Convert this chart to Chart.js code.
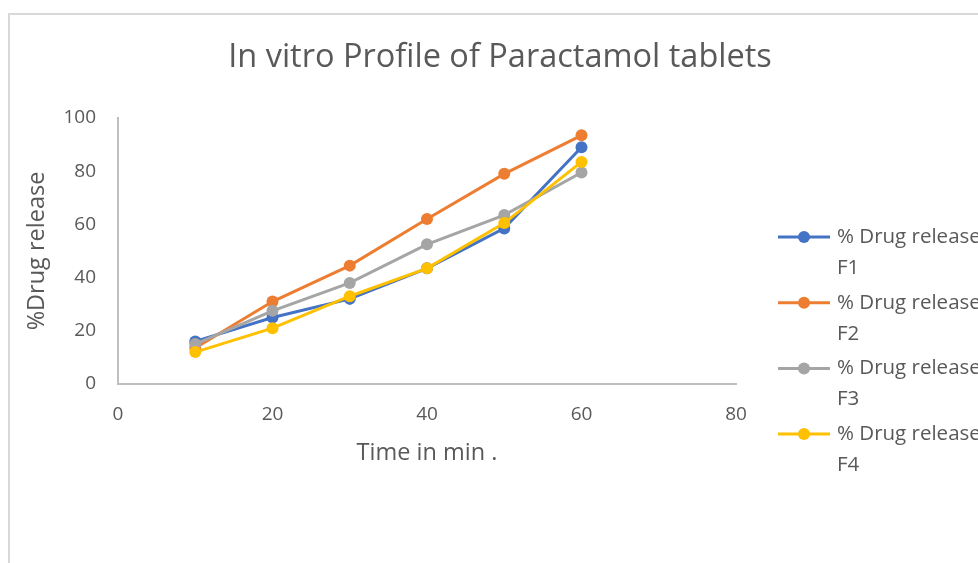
<!DOCTYPE html>
<html>
<head>
<meta charset="utf-8">
<script src="https://cdn.jsdelivr.net/npm/chart.js@4.4.1/dist/chart.umd.min.js"></script>
<style>
  html, body { margin: 0; padding: 0; background: #fff; overflow: hidden; }
  #frame { position: absolute; left: 8px; top: 13px; width: 1200px; height: 800px; border: 2px solid #d9d9d9; box-sizing: border-box; }
  #wrap { position: absolute; left: 0; top: 0; width: 978px; height: 563px; }
</style>
</head>
<body>
<div id="frame"></div>
<div id="wrap"><canvas id="chart" width="978" height="563"></canvas></div>
<script>
// data
var times = [10, 20, 30, 40, 50, 60];
var f1 = [16, 25, 32, 43.5, 58.5, 89];
var f2 = [13.5, 31, 44.5, 62, 79, 93.5];
var f3 = [15, 27.5, 38, 52.5, 63.5, 79.5];
var f4 = [12, 21, 33, 43.5, 60.5, 83.5];
var seriesNames = ['% Drug release F1', '% Drug release F2', '% Drug release F3', '% Drug release F4'];
var seriesColors = ['#4472C4', '#ED7D31', '#A5A5A5', '#FFC000'];
var xTicks = [0, 20, 40, 60, 80];
var yTicks = [0, 20, 40, 60, 80, 100];
var chartTitle = 'In vitro Profile of Paractamol tablets';

var FONT = "'Open Sans', sans-serif";
var TEXT = '#595959';

function points(vals) {
  var out = [];
  for (var i = 0; i < times.length; i++) {
    out.push({x: times[i], y: vals[i]});
  }
  return out;
}

var allVals = [f1, f2, f3, f4];
var dataSets = [];
for (var s = 0; s < allVals.length; s++) {
  dataSets.push({
    label: seriesNames[s],
    data: points(allVals[s]),
    borderColor: seriesColors[s],
    backgroundColor: seriesColors[s],
    borderWidth: 3,
    pointRadius: 6,
    pointHoverRadius: 6,
    pointBorderWidth: 0,
    showLine: true,
    order: allVals.length - s
  });
}

// title + legend drawn by hand: title centred on the whole frame,
// legend labels wrap on two lines like the original
var decorations = {
  id: 'decorations',
  afterDraw: function (chart) {
    var ctx = chart.ctx;
    ctx.save();
    ctx.fillStyle = TEXT;
    ctx.font = '32.5px ' + FONT;
    ctx.textAlign = 'center';
    ctx.textBaseline = 'middle';
    ctx.fillText(chartTitle, 500, 58);

    var items = chart.data.datasets;
    for (var i = 0; i < items.length; i++) {
      var y = 237 + i * 65.7;
      ctx.strokeStyle = items[i].borderColor;
      ctx.lineWidth = 3;
      ctx.beginPath();
      ctx.moveTo(778, y);
      ctx.lineTo(830, y);
      ctx.stroke();
      ctx.fillStyle = items[i].borderColor;
      ctx.beginPath();
      ctx.arc(804, y, 6, 0, Math.PI * 2);
      ctx.fill();
      var parts = items[i].label.split(' F');
      ctx.fillStyle = TEXT;
      ctx.font = '20.5px ' + FONT;
      ctx.textAlign = 'left';
      ctx.fillText(parts[0], 837, y);
      ctx.fillText('F' + parts[1], 837, y + 31);
    }
    ctx.restore();
  }
};

var statChart = new Chart(document.getElementById('chart'), {
  type: 'scatter',
  data: { datasets: dataSets },
  options: {
    responsive: false,
    animation: false,
    events: [],
    layout: { padding: { left: 0, top: 118, right: 242, bottom: 0 } },
    plugins: {
      legend: { display: false },
      tooltip: { enabled: false },
      title: { display: false }
    },
    scales: {
      x: {
        type: 'linear',
        min: 0, max: 80,
        afterBuildTicks: function (axis) {
          axis.ticks = xTicks.map(function (v) { return {value: v}; });
        },
        afterFit: function (axis) { axis.height = 563 - 384; },
        grid: { display: false, drawTicks: false },
        border: { display: true, color: '#bfbfbf', width: 2 },
        ticks: { color: TEXT, padding: 19, font: { family: FONT, size: 19 } },
        title: {
          display: true, text: 'Time in min .', color: TEXT,
          font: { family: FONT, size: 23.5, lineHeight: 1.2 },
          padding: { top: 4, bottom: 96 }
        }
      },
      y: {
        min: 0, max: 100,
        afterBuildTicks: function (axis) {
          axis.ticks = yTicks.map(function (v) { return {value: v}; });
        },
        afterFit: function (axis) { axis.width = 118; },
        grid: { display: false, drawTicks: false },
        border: { display: true, color: '#bfbfbf', width: 2 },
        ticks: { color: TEXT, padding: 22, font: { family: FONT, size: 19 } },
        title: {
          display: true, text: '%Drug release', color: TEXT,
          font: { family: FONT, size: 23.5, lineHeight: 1.2 },
          padding: { top: 23, bottom: 4 }
        }
      }
    }
  },
  plugins: [decorations]
});
</script>
</body>
</html>
